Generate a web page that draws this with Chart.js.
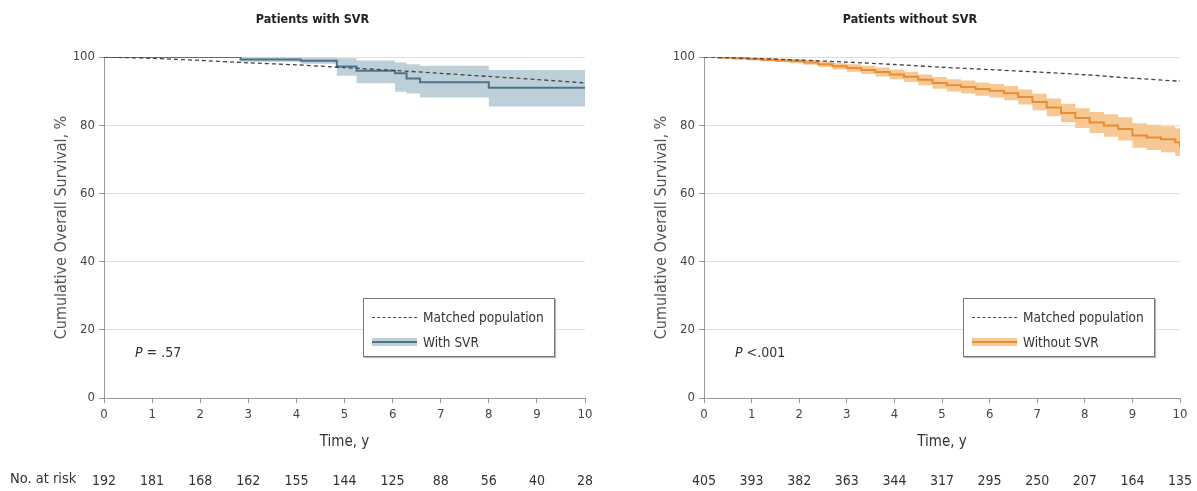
<!DOCTYPE html>
<html>
<head>
<meta charset="utf-8">
<script src="https://cdn.jsdelivr.net/npm/chart.js@4/dist/chart.umd.min.js"></script>
<style>
  body { margin: 0; background: #fff; width: 1197px; height: 491px; overflow: hidden; position: relative;
         font-family: 'DejaVu Sans Condensed', 'Liberation Sans', sans-serif; color: #333; }
  .panel { position: absolute; top: 0; height: 491px; }
  .legend { position: absolute; width: 190px; height: 57px; border: 1px solid #777; background: #fff;
            box-shadow: 1px 1px 1px #bbb; font-size: 13.5px; color: #333; }
  .legend .row { position: absolute; left: 8px; height: 16px; line-height: 16px; }
  .legend .dash { position: absolute; left: 0; top: 8px; width: 45px; border-top: 1.3px dashed #444; }
  .legend .band { position: absolute; left: 0; top: 4px; width: 45px; height: 8px; }
  .legend .band span { position: absolute; left: 0; top: 3px; width: 45px; height: 2px; }
  .legend .txt { position: absolute; left: 51px; top: 0; white-space: nowrap; }
  .pval { position: absolute; font-size: 14px; color: #333; }
  .atrisk { position: absolute; left: 10px; top: 470px; font-size: 14.5px; color: #333; }
</style>
</head>
<body>
<div class="panel" style="left:0;width:600px"><canvas id="left"></canvas></div>
<div class="panel" style="left:600px;width:597px"><canvas id="right"></canvas></div>

<div class="legend" style="left:363px;top:298px">
  <div class="row" style="top:10px"><div class="dash"></div><div class="txt">Matched population</div></div>
  <div class="row" style="top:35px"><div class="band" style="background:#bdd0da"><span style="background:#4f7288"></span></div><div class="txt">With SVR</div></div>
</div>
<div class="legend" style="left:963px;top:298px">
  <div class="row" style="top:10px"><div class="dash"></div><div class="txt">Matched population</div></div>
  <div class="row" style="top:35px"><div class="band" style="background:#f6c894"><span style="background:#e98c36"></span></div><div class="txt">Without SVR</div></div>
</div>
<div class="pval" style="left:135px;top:344px"><i>P</i> = .57</div>
<div class="pval" style="left:735px;top:344px"><i>P</i> &lt;.001</div>
<div class="atrisk">No. at risk</div>

<script>
// tick labels / risk table
const years = [0, 1, 2, 3, 4, 5, 6, 7, 8, 9, 10];
const riskWithSvr = [192, 181, 168, 162, 155, 144, 125, 88, 56, 40, 28];
const riskWithoutSvr = [405, 393, 382, 363, 344, 317, 295, 250, 207, 164, 135];

// matched population (dashed), read per year
const matchedSvr = [100, 99.6, 99.0, 98.3, 97.7, 96.9, 96.1, 95.2, 94.3, 93.4, 92.4];
const matchedNoSvr = [100, 99.6, 99.1, 98.5, 97.8, 97.0, 96.3, 95.6, 94.8, 93.8, 92.9];

// patients with SVR (KM steps + 95% CI)
const svrTimes = [0, 2.84, 4.09, 4.84, 5.25, 6.05, 6.29, 6.57, 8.0, 10];
const svrSurv  = [100, 99.3, 98.9, 97.2, 96.0, 95.2, 93.7, 92.6, 91.0, 91.0];
const svrUpper = [100, 99.9, 99.8, 99.6, 99.0, 98.4, 97.9, 97.4, 96.2, 96.2];
const svrLower = [100, 98.6, 98.0, 94.5, 92.3, 89.8, 89.3, 88.1, 85.5, 85.5];

// patients without SVR
const noSvrTimes = [0, 0.3, 0.6, 0.9, 1.2, 1.5, 1.8, 2.1, 2.4, 2.7, 3.0, 3.3, 3.6, 3.9, 4.2, 4.5, 4.8, 5.1, 5.4, 5.7, 6.0, 6.3, 6.6, 6.9, 7.2, 7.5, 7.8, 8.1, 8.4, 8.7, 9.0, 9.3, 9.6, 9.9, 10];
const noSvrSurv  = [100, 99.8, 99.6, 99.4, 99.2, 99.0, 98.8, 98.4, 97.9, 97.3, 96.8, 96.2, 95.6, 94.9, 94.2, 93.3, 92.4, 91.7, 91.2, 90.6, 90.1, 89.4, 88.3, 86.8, 85.2, 83.6, 82.1, 80.8, 79.9, 78.9, 77.0, 76.4, 75.9, 75.0, 73.6];
const noSvrUpper = [100, 100, 99.9, 99.8, 99.65, 99.5, 99.4, 99.1, 98.7, 98.2, 97.9, 97.4, 96.9, 96.3, 95.7, 94.9, 94.1, 93.5, 93.1, 92.55, 92.1, 91.5, 90.5, 89.2, 87.8, 86.3, 85.0, 83.9, 83.2, 82.3, 80.6, 80.1, 79.7, 79.0, 77.7];
const noSvrLower = [100, 99.6, 99.3, 99.0, 98.75, 98.5, 98.2, 97.7, 97.1, 96.4, 95.7, 95.0, 94.3, 93.5, 92.7, 91.7, 90.7, 89.9, 89.3, 88.65, 88.1, 87.3, 86.1, 84.4, 82.6, 80.9, 79.2, 77.7, 76.6, 75.5, 73.4, 72.7, 72.1, 71.0, 69.5];

const FONT = "'DejaVu Sans Condensed', 'Liberation Sans', sans-serif";

function pts(xs, ys) {
    return xs.map((x, i) => ({ x: x, y: ys[i] }));
}

// keep the plot edges where the reference has them
function noSidePadding(scale) {
    scale.paddingLeft = 0;
    scale.paddingRight = 0;
}

function makeChart(id, opts) {
    const ctx = document.getElementById(id).getContext('2d');
    const datasets = [
        {
            label: 'upper',
            data: pts(opts.times, opts.upper),
            stepped: true,
            borderWidth: 0,
            pointRadius: 0,
            backgroundColor: opts.bandColor,
            fill: '+1',
            order: 4
        },
        {
            label: 'lower',
            data: pts(opts.times, opts.lower),
            stepped: true,
            borderWidth: 0,
            pointRadius: 0,
            fill: false,
            order: 5
        },
        {
            label: opts.name,
            data: pts(opts.times, opts.surv),
            stepped: true,
            borderColor: opts.lineColor,
            borderWidth: 2,
            pointRadius: 0,
            fill: false,
            order: 2
        },
        {
            label: 'Matched population',
            data: pts(years, opts.matched),
            borderColor: '#444',
            borderWidth: 1.3,
            borderDash: [4, 3],
            pointRadius: 0,
            tension: 0.3,
            fill: false,
            order: 1
        }
    ];

    return new Chart(ctx, {
        type: 'line',
        data: { datasets: datasets },
        options: {
            responsive: true,
            maintainAspectRatio: false,
            animation: false,
            layout: { padding: { left: 40, right: opts.padRight, top: 0, bottom: 0 } },
            plugins: {
                legend: { display: false },
                tooltip: { enabled: false },
                title: {
                    display: true,
                    text: opts.title,
                    color: '#222',
                    font: { family: FONT, size: 12.5, weight: 'bold' },
                    padding: { top: 12, bottom: 30 }
                }
            },
            scales: {
                x: {
                    type: 'linear',
                    position: 'bottom',
                    min: 0,
                    max: 10,
                    weight: 0,
                    afterFit: function(scale) { scale.height = 58; noSidePadding(scale); },
                    ticks: { stepSize: 1, color: '#444', padding: 4, maxRotation: 0, font: { family: FONT, size: 13 } },
                    grid: { drawOnChartArea: false, tickLength: 5, color: '#999' },
                    border: { color: '#999' },
                    title: {
                        display: true,
                        text: 'Time, y',
                        color: '#333',
                        font: { family: FONT, size: 15 },
                        padding: { top: 4, bottom: 5 }
                    }
                },
                risk: {
                    type: 'linear',
                    position: 'bottom',
                    min: 0,
                    max: 10,
                    weight: 1,
                    afterFit: function(scale) { scale.height = 35; noSidePadding(scale); },
                    ticks: {
                        stepSize: 1,
                        autoSkip: false,
                        maxRotation: 0,
                        padding: 9,
                        color: '#333',
                        font: { family: FONT, size: 14 },
                        callback: function(value, index) { return opts.risk[index]; }
                    },
                    grid: { display: false },
                    border: { display: false }
                },
                y: {
                    min: 0,
                    max: 100,
                    afterFit: function(scale) { scale.width = 64; },
                    ticks: { stepSize: 20, color: '#444', padding: 4, font: { family: FONT, size: 13 } },
                    grid: { color: '#e0e0e0', tickColor: '#999', tickLength: 5 },
                    border: { color: '#999' },
                    title: {
                        display: true,
                        text: 'Cumulative Overall Survival, %',
                        color: '#555',
                        font: { family: FONT, size: 16 },
                        padding: { top: 12.5, bottom: 4 }
                    }
                }
            }
        }
    });
}

makeChart('left', {
    title: 'Patients with SVR',
    name: 'With SVR',
    times: svrTimes, surv: svrSurv, upper: svrUpper, lower: svrLower,
    matched: matchedSvr,
    risk: riskWithSvr,
    bandColor: '#bdd0da',
    lineColor: '#4f7288',
    padRight: 15
});

makeChart('right', {
    title: 'Patients without SVR',
    name: 'Without SVR',
    times: noSvrTimes, surv: noSvrSurv, upper: noSvrUpper, lower: noSvrLower,
    matched: matchedNoSvr,
    risk: riskWithoutSvr,
    bandColor: '#f6c894',
    lineColor: '#e98c36',
    padRight: 17
});
</script>
</body>
</html>
